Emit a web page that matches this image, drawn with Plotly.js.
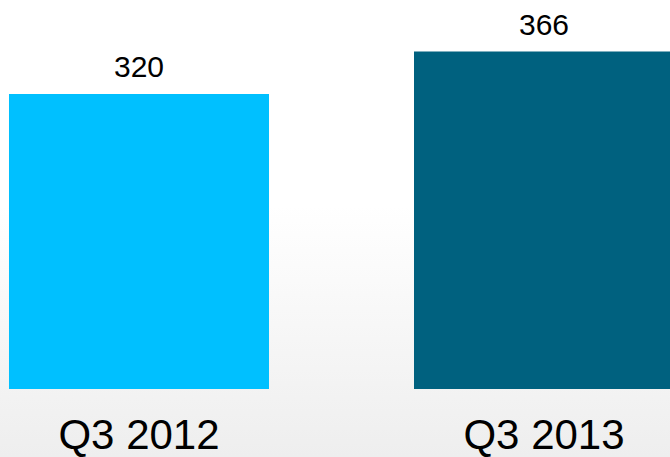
<!DOCTYPE html>
<html>
<head>
<meta charset="utf-8">
<script src="https://cdn.plot.ly/plotly-3.0.1.min.js"></script>
<style>
html,body{margin:0;padding:0;}
body{width:670px;height:457px;background:linear-gradient(to bottom,#ffffff 0%,#ffffff 45%,#eeeeee 100%);}
#chart{width:670px;height:457px;}
</style>
</head>
<body>
<div id="chart"></div>
<script>
const categories = ["Q3 2012", "Q3 2013"];
const values = [320, 366];
const barColors = ["#00c0ff", "#00617f"];

const trace = {
  type: "bar",
  x: categories,
  y: values,
  marker: {color: barColors, line: {width: 0}},
  width: 0.642,
  hoverinfo: "none"
};

const annotations = categories.map((c, i) => ({
  x: c, y: values[i], xref: "x", yref: "y",
  text: String(values[i]), showarrow: false,
  yanchor: "bottom", yshift: 9,
  font: {family: "Liberation Sans, Arial, sans-serif", size: 30, color: "#000"}
}));

const layout = {
  width: 670, height: 457,
  margin: {l: 0, r: 0, t: 0, b: 68, pad: 0},
  paper_bgcolor: "rgba(0,0,0,0)",
  plot_bgcolor: "rgba(0,0,0,0)",
  showlegend: false,
  xaxis: {
    type: "category",
    range: [-0.3432, 1.3111],
    showgrid: false, zeroline: false, showline: false,
    ticks: "", ticklabelstandoff: 17,
    tickfont: {family: "Liberation Sans, Arial, sans-serif", size: 42, color: "#000"}
  },
  yaxis: {
    range: [0, 421.9],
    visible: false, showgrid: false, zeroline: false
  },
  annotations: annotations
};

Plotly.newPlot("chart", [trace], layout, {displayModeBar: false, staticPlot: true});
</script>
</body>
</html>
